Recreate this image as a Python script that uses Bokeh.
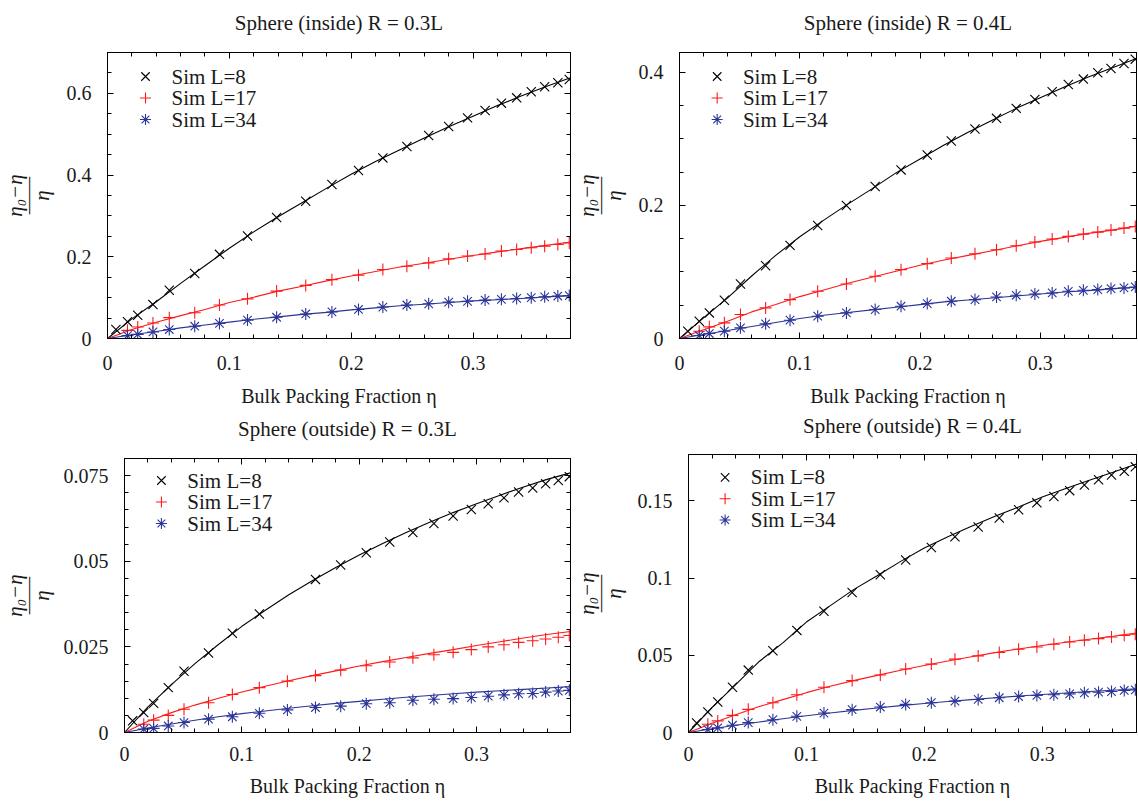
from bokeh.plotting import figure
from bokeh.layouts import row, column
from bokeh.models import (Range1d, FixedTicker, LinearAxis, Label,
                          CustomJSTickFormatter)
from bokeh.embed import file_html
from bokeh.resources import INLINE

NAN = float("nan")

# ---------------- data ----------------
series_labels = ["Sim L=8", "Sim L=17", "Sim L=34"]
titles = ["Sphere (inside) R = 0.3L", "Sphere (inside) R = 0.4L",
          "Sphere (outside) R = 0.3L", "Sphere (outside) R = 0.4L"]
x_label = "Bulk Packing Fraction η"
y_label = "η₀−η\n——\nη"

x_ticks = [0, 0.1, 0.2, 0.3]
x_tick_labels = ["0", "0.1", "0.2", "0.3"]

y_ticks_in03 = [0, 0.2, 0.4, 0.6]
y_tick_labels_in03 = ["0", "0.2", "0.4", "0.6"]
y_ticks_in04 = [0, 0.2, 0.4]
y_tick_labels_in04 = ["0", "0.2", "0.4"]
y_ticks_out03 = [0, 0.025, 0.05, 0.075]
y_tick_labels_out03 = ["0", "0.025", "0.05", "0.075"]
y_ticks_out04 = [0, 0.05, 0.1, 0.15]
y_tick_labels_out04 = ["0", "0.05", "0.1", "0.15"]

eta_L8 = [0.0069, 0.0164, 0.0248, 0.0373, 0.0507, 0.0716, 0.0919, 0.1149, 0.1388,
          0.1627, 0.1842, 0.2060, 0.2260, 0.2457, 0.2636, 0.2800, 0.2955, 0.3099,
          0.3233, 0.3358, 0.3478, 0.3588, 0.3696, 0.3790]
eta_L17_L34 = [0.0164, 0.0248, 0.0373, 0.0507, 0.0716, 0.0919, 0.1149, 0.1388,
               0.1627, 0.1842, 0.2060, 0.2260, 0.2457, 0.2636, 0.2800, 0.2955, 0.3099,
               0.3233, 0.3358, 0.3478, 0.3588, 0.3696, 0.3790]
eta_fit = [0.0, 0.02, 0.04, 0.06, 0.08, 0.10, 0.12, 0.14, 0.16, 0.18, 0.20,
           0.22, 0.24, 0.26, 0.28, 0.30, 0.32, 0.34, 0.36, 0.38]

# Sphere (inside) R = 0.3L
in03_sim_L8 = [0.022, 0.041, 0.057, 0.083, 0.118, 0.159, 0.206, 0.251, 0.296, 0.336,
               0.377, 0.411, 0.442, 0.470, 0.497, 0.519, 0.540, 0.558, 0.576, 0.589,
               0.604, 0.616, 0.626, 0.634]
in03_sim_L17 = [0.020, 0.028, 0.038, 0.051, 0.063, 0.082, 0.097, 0.116, 0.130, 0.144,
                0.155, 0.169, 0.177, 0.185, 0.195, 0.202, 0.207, 0.214, 0.218, 0.222,
                0.226, 0.230, 0.234]
in03_sim_L34 = [0.007, 0.010, 0.016, 0.022, 0.030, 0.037, 0.045, 0.052, 0.060, 0.065,
                0.071, 0.077, 0.082, 0.085, 0.089, 0.091, 0.094, 0.096, 0.098, 0.100,
                0.102, 0.104, 0.105]
in03_fit_L8 = [0, 0.048, 0.090, 0.135, 0.178, 0.221, 0.261, 0.298, 0.333, 0.368, 0.402,
               0.433, 0.462, 0.491, 0.518, 0.544, 0.570, 0.594, 0.617, 0.638]
in03_fit_L17 = [0, 0.022, 0.040, 0.056, 0.071, 0.088, 0.101, 0.116, 0.128, 0.141, 0.153,
                0.164, 0.175, 0.184, 0.194, 0.203, 0.212, 0.220, 0.228, 0.236]
in03_fit_L34 = [0, 0.009, 0.017, 0.026, 0.033, 0.040, 0.047, 0.053, 0.059, 0.064, 0.070,
                0.075, 0.080, 0.084, 0.088, 0.092, 0.095, 0.098, 0.102, 0.105]

# Sphere (inside) R = 0.4L
in04_sim_L8 = [0.011, 0.026, 0.0385, 0.0575, 0.082, 0.1095, 0.140, 0.170, 0.200, 0.2285,
               0.2535, 0.276, 0.297, 0.315, 0.331, 0.346, 0.3595, 0.371, 0.382, 0.390,
               0.3995, 0.406, 0.4135, 0.420]
in04_sim_L17 = [0.011, 0.0175, 0.0235, 0.036, 0.046, 0.0585, 0.071, 0.082, 0.0935, 0.1035,
                0.1125, 0.121, 0.1275, 0.1335, 0.1395, 0.145, 0.1495, 0.1535, 0.157,
                0.160, 0.163, 0.166, 0.1685]
in04_sim_L34 = [0.0045, 0.0075, 0.011, 0.016, 0.022, 0.0275, 0.0335, 0.0385, 0.0435,
                0.0485, 0.0525, 0.056, 0.0585, 0.0625, 0.065, 0.067, 0.0685, 0.071,
                0.0725, 0.0735, 0.075, 0.076, 0.0775]
in04_fit_L8 = [0, 0.031, 0.061, 0.094, 0.125, 0.153, 0.178, 0.202, 0.225, 0.249, 0.270,
               0.291, 0.310, 0.328, 0.346, 0.362, 0.378, 0.393, 0.407, 0.421]
in04_fit_L17 = [0, 0.013, 0.026, 0.040, 0.051, 0.063, 0.073, 0.083, 0.092, 0.101, 0.110,
                0.118, 0.125, 0.132, 0.139, 0.146, 0.152, 0.158, 0.163, 0.169]
in04_fit_L34 = [0, 0.006, 0.012, 0.018, 0.024, 0.030, 0.035, 0.039, 0.043, 0.047, 0.051,
                0.055, 0.058, 0.061, 0.064, 0.067, 0.070, 0.072, 0.075, 0.077]

# Sphere (outside) R = 0.3L
out03_sim_L8 = [0.0034, 0.0058, 0.0085, 0.0131, 0.0179, 0.0232, 0.0290, 0.0346, NAN,
                0.0447, 0.0489, 0.0525, 0.0556, 0.0584, 0.0610, 0.0632, 0.0651, 0.0668,
                0.0685, 0.0702, 0.0714, 0.0726, 0.0736, 0.0747]
out03_sim_L17 = [0.0024, 0.0036, 0.0050, 0.0068, 0.0087, 0.0111, 0.0131, 0.0150, 0.0166,
                 0.0182, 0.0195, 0.0206, 0.0218, 0.0227, 0.0234, 0.0242, 0.0250, 0.0256,
                 0.0263, 0.0268, 0.0273, 0.0278, 0.0283]
out03_sim_L34 = [0.0010, 0.0012, 0.0019, 0.0029, 0.0039, 0.0046, 0.0056, 0.0066, 0.0073,
                 0.0077, 0.0084, 0.0087, 0.0094, 0.0097, 0.0099, 0.0102, 0.0106, 0.0110,
                 0.0113, 0.0114, 0.0118, 0.0121, 0.0123]
out03_fit_L8 = [0, 0.0075, 0.0140, 0.0201, 0.0257, 0.0310, 0.0357, 0.0402, 0.0443, 0.0482,
                0.0518, 0.0552, 0.0584, 0.0614, 0.0642, 0.0668, 0.0693, 0.0717, 0.0739,
                0.0758]
out03_fit_L17 = [0, 0.0033, 0.0058, 0.0080, 0.0100, 0.0118, 0.0135, 0.0151, 0.0166,
                 0.0180, 0.0194, 0.0207, 0.0219, 0.0231, 0.0242, 0.0254, 0.0265, 0.0276,
                 0.0286, 0.0295]
out03_fit_L34 = [0, 0.0013, 0.0025, 0.0036, 0.0046, 0.0055, 0.0063, 0.0071, 0.0078,
                 0.0085, 0.0091, 0.0097, 0.0103, 0.0108, 0.0113, 0.0118, 0.0122, 0.0126,
                 0.0130, 0.0134]

# Sphere (outside) R = 0.4L
out04_sim_L8 = [0.0062, 0.0133, 0.0197, 0.0293, 0.0404, 0.0529, 0.0661, 0.0785, 0.0907,
                0.1021, 0.1117, 0.1198, 0.1267, 0.1331, 0.1389, 0.1442, 0.1487, 0.1528,
                0.1566, 0.1603, 0.1637, 0.1667, 0.1691, 0.1720]
out04_sim_L17 = [0.0053, 0.0075, 0.0111, 0.0150, 0.0193, 0.0244, 0.0293, 0.0336, 0.0372,
                 0.0411, 0.0443, 0.0475, 0.0496, 0.0518, 0.0539, 0.0554, 0.0571, 0.0586,
                 0.0597, 0.0608, 0.0618, 0.0629, 0.0636]
out04_sim_L34 = [0.0019, 0.0030, 0.0047, 0.0064, 0.0083, 0.0105, 0.0126, 0.0148, 0.0165,
                 0.0182, 0.0193, 0.0203, 0.0214, 0.0225, 0.0233, 0.0240, 0.0244, 0.0250,
                 0.0257, 0.0261, 0.0265, 0.0272, 0.0276]
out04_fit_L8 = [0, 0.0163, 0.0310, 0.0460, 0.0580, 0.0715, 0.0820, 0.0925, 0.1015, 0.1108,
                0.1195, 0.1268, 0.1335, 0.1400, 0.1460, 0.1525, 0.1580, 0.1633, 0.1685,
                0.1738]
out04_fit_L17 = [0, 0.0060, 0.0115, 0.0168, 0.0213, 0.0258, 0.0300, 0.0336, 0.0370,
                 0.0403, 0.0434, 0.0463, 0.0491, 0.0517, 0.0541, 0.0563, 0.0584, 0.0604,
                 0.0623, 0.0644]
out04_fit_L34 = [0, 0.0024, 0.0047, 0.0068, 0.0089, 0.0108, 0.0126, 0.0143, 0.0159,
                 0.0174, 0.0188, 0.0201, 0.0213, 0.0225, 0.0236, 0.0246, 0.0256, 0.0265,
                 0.0274, 0.0283]

# ---------------- style ----------------
FONT = "Liberation Serif"
TXT = "#1a1a1a"
FS = "20px"
FS_BIG = "21px"
COLORS = ["#000000", "#ff1a1a", "#2b3595"]
MARKERS = ["x", "cross", "asterisk"]
MSIZE = [13, 12, 12]
LEG_MSIZE = [12, 11, 11]
XMAX = 0.38

x_minor = [round(i * 0.02, 4) for i in range(20)]

FMT = "return String(parseFloat(tick.toFixed(5)));"


def style_axis(ax, ticks, labels, minor, show):
    ax.ticker = FixedTicker(ticks=ticks, minor_ticks=minor)
    ax.axis_line_color = "black"
    ax.major_tick_line_color = "black"
    ax.minor_tick_line_color = "black"
    ax.major_tick_in = 6
    ax.major_tick_out = 0
    ax.minor_tick_in = 4
    ax.minor_tick_out = 0
    if show:
        ax.formatter = CustomJSTickFormatter(code=FMT)
        ax.major_label_overrides = {t: l for t, l in zip(ticks, labels)}
        ax.major_label_text_font = FONT
        ax.major_label_text_font_size = FS
        ax.major_label_text_color = TXT
    else:
        ax.formatter = CustomJSTickFormatter(code="return '';")
        ax.major_label_standoff = 0
        ax.major_label_text_font_size = "1px"


def make_panel(cfg):
    W, H = cfg["size"]
    L, R, T, B = cfg["borders"]
    fw = W - L - R
    fh = H - T - B
    ymax = cfg["ymax"]

    def dx(px):
        return px * XMAX / fw

    def dy(px):
        return px * ymax / fh

    p = figure(width=W, height=H, x_range=Range1d(0, XMAX), y_range=Range1d(0, ymax),
               output_backend="svg", toolbar_location=None,
               min_border_left=L, min_border_right=R,
               min_border_top=T, min_border_bottom=B)
    p.xgrid.visible = False
    p.ygrid.visible = False
    p.outline_line_color = "black"
    p.outline_line_width = 1
    p.outline_line_alpha = 1
    p.background_fill_color = "white"
    p.border_fill_color = "white"
    p.title.text = ""

    xa = p.xaxis[0]
    style_axis(xa, x_ticks, x_tick_labels, x_minor, True)
    xa.major_label_standoff = cfg["xtick_standoff"]
    xa.axis_label = x_label
    xa.axis_label_standoff = cfg["xlab_standoff"]
    xa.axis_label_text_font = FONT
    xa.axis_label_text_font_size = FS
    xa.axis_label_text_font_style = "normal"
    xa.axis_label_text_color = TXT

    ya = p.yaxis[0]
    style_axis(ya, cfg["yticks"], cfg["ylabels"], cfg["yminor"], True)
    ya.major_label_standoff = 16
    ya.axis_label = y_label
    ya.axis_label_standoff = cfg["ylab_standoff"]
    ya.axis_label_text_font = FONT
    ya.axis_label_text_font_size = FS_BIG
    ya.axis_label_text_font_style = "italic"
    ya.axis_label_text_color = TXT
    ya.axis_label_text_line_height = 0.55

    # mirrored top axis carries the panel title as its label
    top = LinearAxis()
    style_axis(top, x_ticks, x_tick_labels, x_minor, False)
    top.axis_label = cfg["title"]
    top.axis_label_standoff = cfg["title_standoff"]
    top.axis_label_text_font = FONT
    top.axis_label_text_font_size = FS_BIG
    top.axis_label_text_font_style = "normal"
    top.axis_label_text_color = TXT
    p.add_layout(top, "above")

    right = LinearAxis()
    style_axis(right, cfg["yticks"], cfg["ylabels"], cfg["yminor"], False)
    p.add_layout(right, "right")

    for k in range(3):
        p.line(eta_fit, cfg["fit"][k], line_color=COLORS[k], line_width=1.1)
    for k in range(3):
        xs = eta_L8 if k == 0 else eta_L17_L34
        p.scatter(xs, cfg["sim"][k], marker=MARKERS[k], size=MSIZE[k],
                  line_color=COLORS[k], line_width=1.1, fill_color=None)

    # key (top-left, no box)
    lx, ly0, lstep = cfg["key"]
    for k in range(3):
        yk = ymax - dy(ly0 + lstep * k)
        p.scatter([dx(lx)], [yk], marker=MARKERS[k], size=LEG_MSIZE[k],
                  line_color=COLORS[k], line_width=1.1, fill_color=None)
        p.add_layout(Label(x=dx(lx + 26), y=yk, text=series_labels[k],
                           text_align="left", text_baseline="middle",
                           text_font=FONT, text_font_size=FS_BIG, text_color=TXT))
    return p


panels = [
    dict(size=(572, 410), borders=(107, 2, 52, 72), ymax=0.7, title=titles[0],
         yticks=y_ticks_in03, ylabels=y_tick_labels_in03,
         yminor=[round(i * 0.05, 4) for i in range(15)],
         sim=[in03_sim_L8, in03_sim_L17, in03_sim_L34],
         fit=[in03_fit_L8, in03_fit_L17, in03_fit_L34],
         title_standoff=18, xtick_standoff=17, xlab_standoff=12,
         ylab_standoff=10, key=(38, 24, 21.5)),
    dict(size=(566, 410), borders=(103, 2, 52, 72), ymax=0.43, title=titles[1],
         yticks=y_ticks_in04, ylabels=y_tick_labels_in04,
         yminor=[round(i * 0.05, 4) for i in range(9)],
         sim=[in04_sim_L8, in04_sim_L17, in04_sim_L34],
         fit=[in04_fit_L8, in04_fit_L17, in04_fit_L34],
         title_standoff=18, xtick_standoff=17, xlab_standoff=12,
         ylab_standoff=10, key=(38, 24, 21.5)),
    dict(size=(572, 391), borders=(123, 2, 48, 69), ymax=0.08, title=titles[2],
         yticks=y_ticks_out03, ylabels=y_tick_labels_out03,
         yminor=[round(i * 0.005, 4) for i in range(17)],
         sim=[out03_sim_L8, out03_sim_L17, out03_sim_L34],
         fit=[out03_fit_L8, out03_fit_L17, out03_fit_L34],
         title_standoff=18, xtick_standoff=14, xlab_standoff=11,
         ylab_standoff=7, key=(37, 22, 21.5)),
    dict(size=(566, 391), borders=(111, 2, 42, 69), ymax=0.18, title=titles[3],
         yticks=y_ticks_out04, ylabels=y_tick_labels_out04,
         yminor=[],
         sim=[out04_sim_L8, out04_sim_L17, out04_sim_L34],
         fit=[out04_fit_L8, out04_fit_L17, out04_fit_L34],
         title_standoff=17, xtick_standoff=14, xlab_standoff=11,
         ylab_standoff=9, key=(37, 23, 21.5)),
]

figs = [make_panel(c) for c in panels]
layout = column(row(column(figs[0]), column(figs[1]), spacing=0),
                row(column(figs[2]), column(figs[3]), spacing=0),
                spacing=0)

open("out.html", "w").write(file_html(layout, INLINE))
